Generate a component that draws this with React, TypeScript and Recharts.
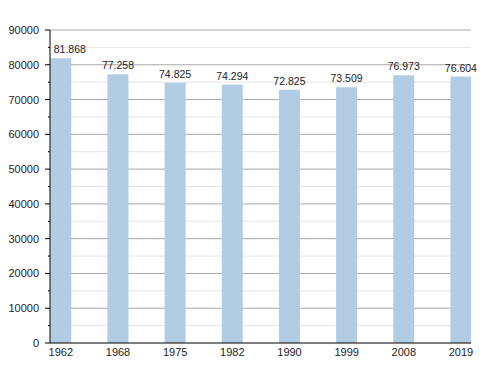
import { BarChart, Bar, XAxis, YAxis, CartesianGrid, LabelList } from "recharts";

const years = ["1962", "1968", "1975", "1982", "1990", "1999", "2008", "2019"];
const population = [81868, 77258, 74825, 74294, 72825, 73509, 76973, 76604];
const majorTicks = [0, 10000, 20000, 30000, 40000, 50000, 60000, 70000, 80000, 90000];
const minorTicks = [5000, 15000, 25000, 35000, 45000, 55000, 65000, 75000, 85000];
const allTicks = [...majorTicks, ...minorTicks].sort((a, b) => a - b);

const data = years.map((year, i) => ({ idx: i, year, population: population[i] }));

const FONT = "'Liberation Sans', Arial, sans-serif";
const fmtDots = (v: number) => String(v).replace(/\B(?=(\d{3})+(?!\d))/g, ".");

// tick text sits at axis - tickSize(6) - tickMargin(5)
function YTick({ x, y, payload }: any) {
  const axisX = x + 11;
  const major = payload.value % 10000 === 0;
  return (
    <g>
      <line x1={axisX - (major ? 5 : 2)} x2={axisX} y1={y} y2={y} stroke="#000" />
      {major && (
        <text x={x} y={y} dy="0.36em" textAnchor="end" fontSize={11} fill="#222" fontFamily={FONT}>
          {payload.value}
        </text>
      )}
    </g>
  );
}

function TopLabel({ x, y, width, value, index }: any) {
  const shift = index === 0 ? 9 : 0; // first label sits right of its bar in the original
  return (
    <text x={x + width / 2 + shift} y={y - 5} textAnchor="middle" fontSize={10.5} fill="#222" fontFamily={FONT}>
      {fmtDots(Number(value))}
    </text>
  );
}

export default function App() {
  return (
    <div style={{ position: "absolute", left: 0, top: 0, background: "#fff" }}>
      <BarChart width={500} height={373} data={data} margin={{ top: 30, right: 29, left: 0, bottom: 0 }}>
        <CartesianGrid vertical={false} horizontalValues={minorTicks} stroke="#e4e4e4" />
        <CartesianGrid vertical={false} horizontalValues={majorTicks.slice(1)} stroke="#a8a8a8" />
        <XAxis
          dataKey="idx"
          type="number"
          domain={[-0.19, 7.175]}
          allowDataOverflow
          ticks={[0, 1, 2, 3, 4, 5, 6, 7]}
          tickFormatter={(i) => years[i]}
          height={30}
          tickLine={false}
          tickSize={3}
          tickMargin={2}
          axisLine={{ stroke: "#000" }}
          tick={{ fontSize: 11, fill: "#222", fontFamily: FONT }}
        />
        <YAxis
          type="number"
          domain={[0, 90000]}
          ticks={allTicks}
          width={50}
          interval={0}
          tickLine={false}
          tickSize={6}
          tickMargin={5}
          axisLine={{ stroke: "#000" }}
          tick={<YTick />}
        />
        <Bar dataKey="population" fill="#b2cce4" barSize={21} isAnimationActive={false}>
          <LabelList dataKey="population" content={<TopLabel />} />
        </Bar>
      </BarChart>
    </div>
  );
}
